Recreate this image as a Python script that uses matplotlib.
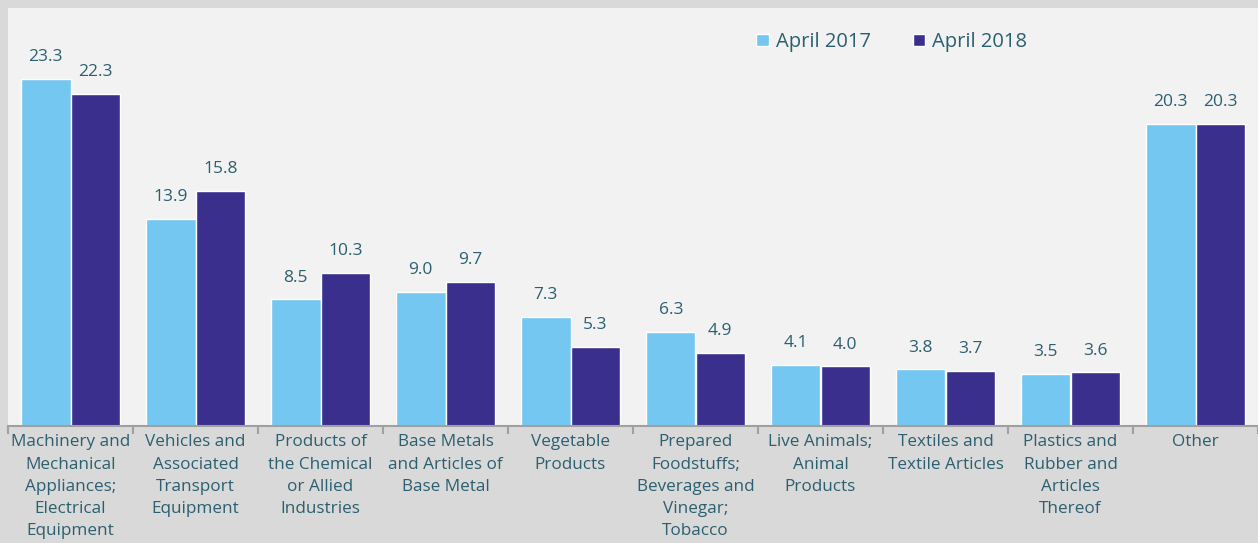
import matplotlib
matplotlib.use("Agg")
import matplotlib.pyplot as plt
import numpy as np

categories = [
    "Machinery and\nMechanical\nAppliances;\nElectrical\nEquipment",
    "Vehicles and\nAssociated\nTransport\nEquipment",
    "Products of\nthe Chemical\nor Allied\nIndustries",
    "Base Metals\nand Articles of\nBase Metal",
    "Vegetable\nProducts",
    "Prepared\nFoodstuffs;\nBeverages and\nVinegar;\nTobacco",
    "Live Animals;\nAnimal\nProducts",
    "Textiles and\nTextile Articles",
    "Plastics and\nRubber and\nArticles\nThereof",
    "Other",
]
april_2017 = [23.3, 13.9, 8.5, 9.0, 7.3, 6.3, 4.1, 3.8, 3.5, 20.3]
april_2018 = [22.3, 15.8, 10.3, 9.7, 5.3, 4.9, 4.0, 3.7, 3.6, 20.3]
series_names = ["April 2017", "April 2018"]

c_light = "#74c7f1"
c_dark = "#3b2f8e"
text_c = "#2b5f70"
bg = "#d9d9d9"
plot_bg = "#f2f2f2"

plt.rcParams['font.family'] = ['Open Sans', 'DejaVu Sans']

fig = plt.figure(figsize=(12.58, 5.43), dpi=100, facecolor=bg)
W, H = 1258, 543
ax = fig.add_axes([8 / W, (H - 426) / H, 1 - 8 / W, (426 - 8) / H])
ax.set_facecolor(plot_bg)

x = np.arange(len(categories))
bw = 0.396
b1 = ax.bar(x - bw / 2, april_2017, bw, color=c_light, edgecolor="white", linewidth=1, label=series_names[0])
b2 = ax.bar(x + bw / 2, april_2018, bw, color=c_dark, edgecolor="white", linewidth=1, label=series_names[1])

for bars, vals in ((b1, april_2017), (b2, april_2018)):
    for b, v in zip(bars, vals):
        ax.annotate(f"{v:.1f}", (b.get_x() + b.get_width() / 2, v), xytext=(0, 10),
                    textcoords="offset points", ha="center", va="bottom",
                    fontsize=12.5, color=text_c)

ax.set_xlim(-0.5, len(categories) - 0.5)
ax.set_ylim(0, 28.07)
ax.set_yticks([])
ax.set_xticks(np.arange(len(categories) + 1) - 0.5, minor=True)
ax.set_xticks(x)
ax.set_xticklabels(categories, fontsize=12.3, color=text_c, linespacing=1.52)
ax.tick_params(axis="x", which="major", length=0, pad=6)
ax.tick_params(axis="x", which="minor", length=6, color="#a0a0a0", width=1.5)
for s in ("top", "right", "left"):
    ax.spines[s].set_visible(False)
ax.spines["bottom"].set_color("#a0a0a0")
ax.spines["bottom"].set_linewidth(1.5)

leg = ax.legend(loc="upper left", bbox_to_anchor=(743 / W - 8 / W, 1 - 6 / 418), ncol=2, frameon=False,
                fontsize=14.5, handlelength=0.6, handleheight=0.6, handletextpad=0.35,
                columnspacing=2.1, labelcolor=text_c)

fig.savefig("out.png", dpi=100, facecolor=bg)
